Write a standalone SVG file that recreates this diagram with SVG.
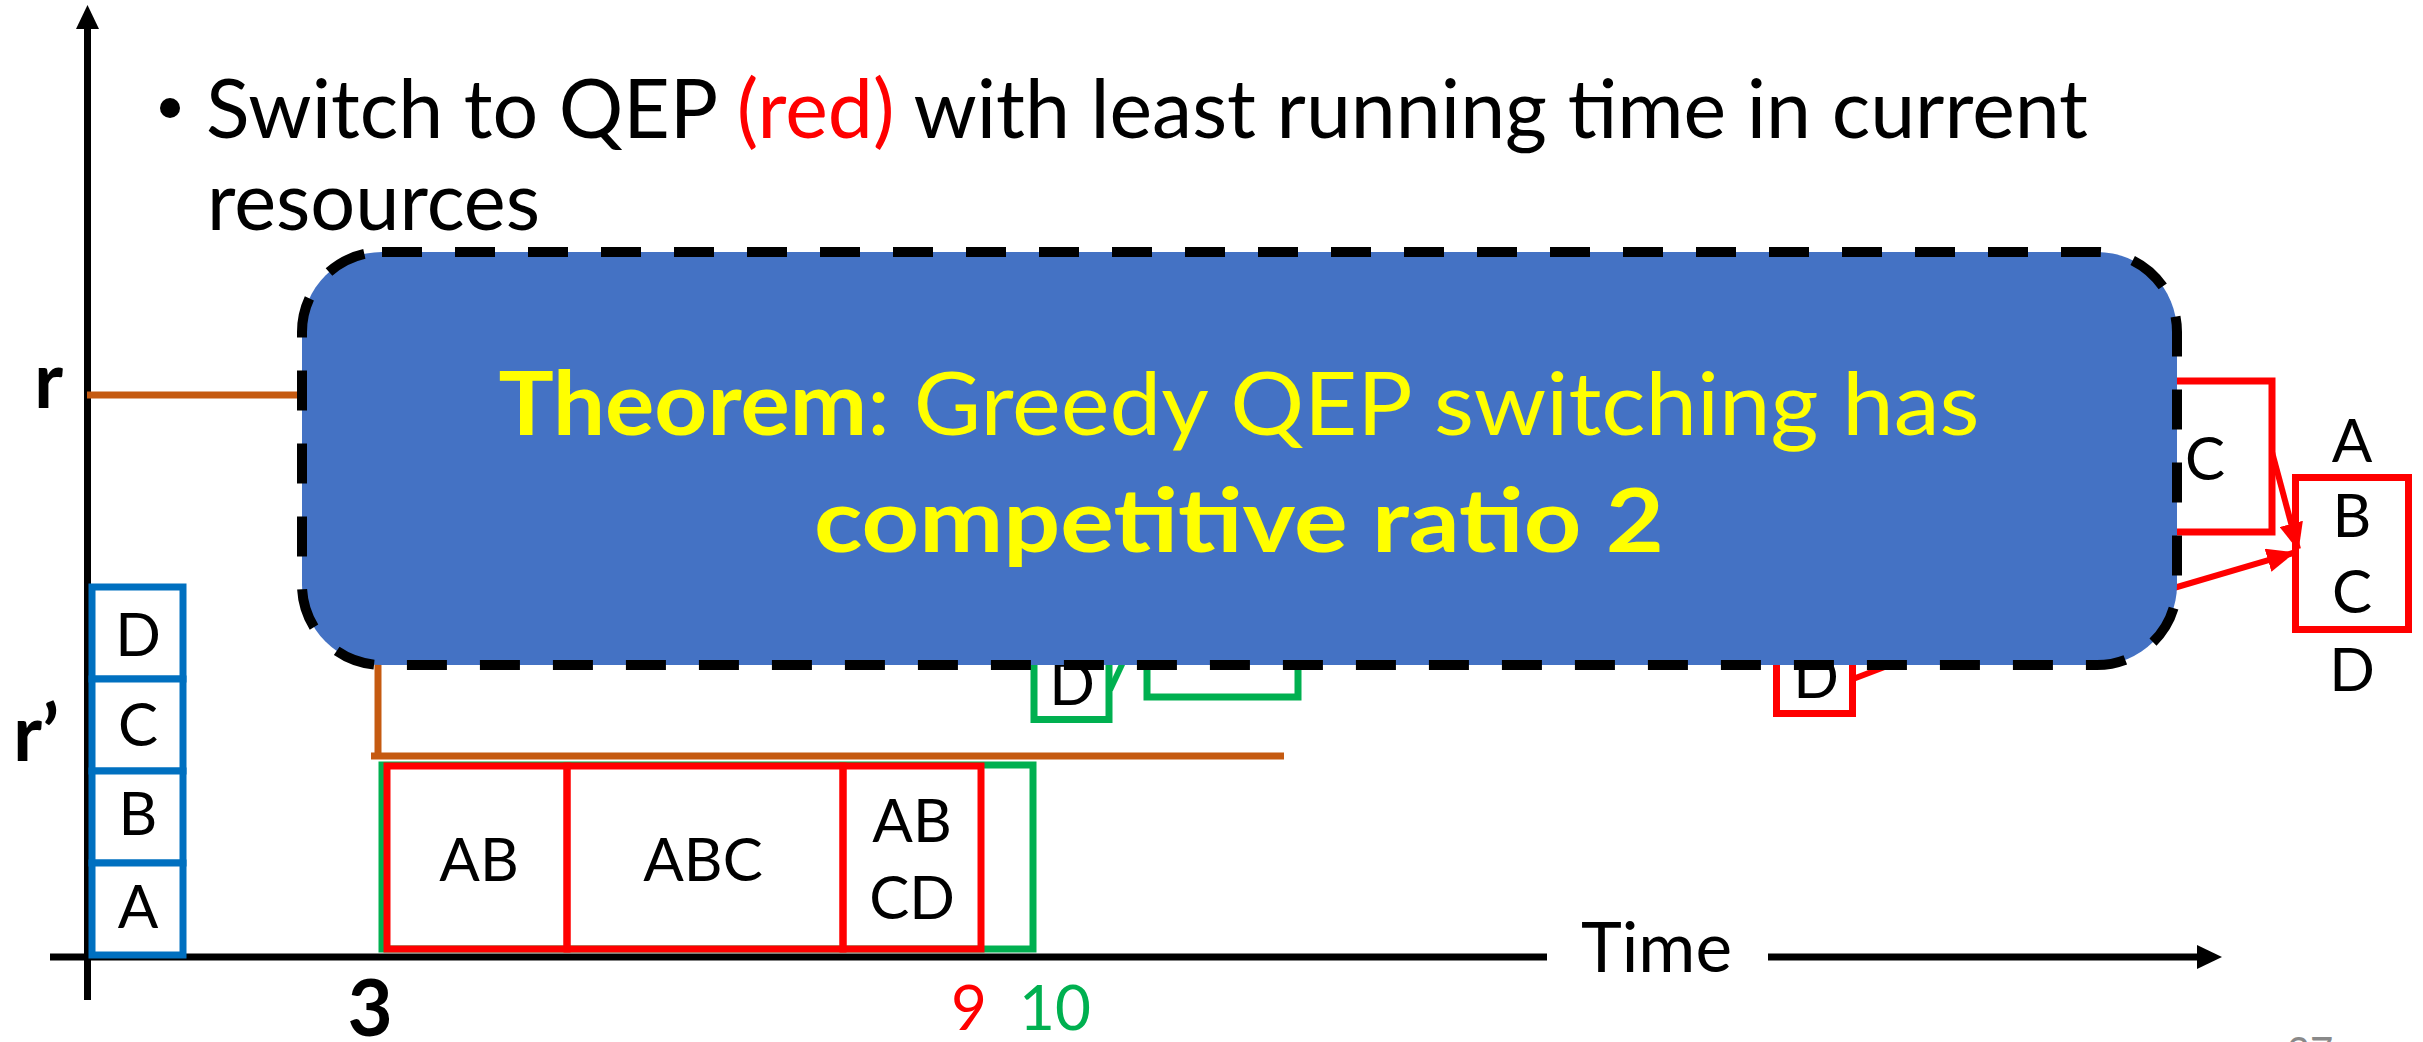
<svg xmlns="http://www.w3.org/2000/svg" width="2423" height="1042" viewBox="0 0 2423 1042">
<style>
text { font-family: Lato, "Liberation Sans", sans-serif; fill: #000; }
.lbl { font-size: 60px; text-anchor: middle; }
.red { fill: none; stroke: #FF0000; stroke-width: 7; }
.grn { fill: none; stroke: #00B050; stroke-width: 7; }
.blu { fill: #fff; stroke: #0070C0; stroke-width: 7; }
.org { stroke: #C55A11; stroke-width: 7; fill: none; }
.axis { stroke: #000; stroke-width: 7; fill: none; }
.conn { stroke: #FF0000; stroke-width: 6; fill: none; }
.bold { font-weight: 700; }
</style>
<defs>
<marker id="ah" markerUnits="userSpaceOnUse" markerWidth="28" markerHeight="24" refX="26" refY="12" orient="auto">
<path d="M0,0 L28,12 L0,24 Z" fill="#FF0000"/>
</marker>
</defs>

<g id="axes">
<line class="axis" x1="87.5" y1="1000" x2="87.5" y2="26"/>
<polygon points="87.5,5 76,29 99,29" fill="#000"/>
<line class="axis" x1="50" y1="957" x2="1547" y2="957"/>
<line class="axis" x1="1768" y1="957" x2="2199" y2="957"/>
<polygon points="2222,957 2197,945 2197,969" fill="#000"/>
<text x="1581" y="972" font-size="70" textLength="151" lengthAdjust="spacingAndGlyphs">Time</text>
<text x="34" y="408" font-size="78" class="bold">r</text>
<text x="13" y="761" font-size="78" class="bold">r’</text>
<text x="370" y="1036" font-size="78" class="bold" text-anchor="middle">3</text>
<text x="969" y="1030" font-size="62" text-anchor="middle" style="fill:#FF0000">9</text>
<text x="1055" y="1030" font-size="62" text-anchor="middle" style="fill:#00B050">10</text>
<text x="2310" y="1066" font-size="40" text-anchor="middle" style="fill:#898989">37</text>
</g>

<g id="resource-levels">
<line class="org" x1="87" y1="395" x2="320" y2="395"/>
<line class="org" x1="378" y1="640" x2="378" y2="756"/>
<line class="org" x1="371" y1="756" x2="1284" y2="756"/>
</g>

<g id="bullet">
<circle cx="170" cy="108" r="10" fill="#000"/>
<text x="206" y="138" font-size="81" textLength="1882" lengthAdjust="spacingAndGlyphs">Switch to QEP <tspan style="fill:#FF0000">(red)</tspan> with least running time in current</text>
<text x="207" y="230" font-size="81" textLength="333" lengthAdjust="spacingAndGlyphs">resources</text>
</g>

<g id="query-blue">
<rect class="blu" x="92" y="587" width="91" height="92"/>
<rect class="blu" x="92" y="679" width="91" height="92"/>
<rect class="blu" x="92" y="771" width="91" height="92"/>
<rect class="blu" x="92" y="863" width="91" height="92"/>
<text class="lbl" x="138" y="656">D</text>
<text class="lbl" x="138" y="746">C</text>
<text class="lbl" x="138" y="835">B</text>
<text class="lbl" x="138" y="928">A</text>
</g>

<g id="green-plan">
<rect class="grn" x="382" y="765" width="651" height="184"/>
<rect class="grn" x="1034" y="600" width="75" height="119.5"/>
<rect class="grn" x="1147" y="600" width="151" height="97"/>
<text class="lbl" x="1072" y="705">D</text>
</g>

<g id="red-plan">
<rect class="red" x="387" y="766" width="180" height="183"/>
<rect class="red" x="567" y="766" width="276" height="183"/>
<rect class="red" x="843" y="766" width="138" height="183"/>
<text class="lbl" x="479" y="881">AB</text>
<text class="lbl" x="703" y="881">ABC</text>
<text class="lbl" x="912" y="842">AB</text>
<text class="lbl" x="912" y="919">CD</text>
<rect class="red" x="2100" y="381" width="172" height="151"/>
<text class="lbl" x="2205" y="480">C</text>
<rect class="red" x="1776.5" y="600" width="76" height="113.5"/>
<text class="lbl" x="1816" y="698">D</text>
<rect class="red" x="2295.5" y="477.5" width="113" height="152"/>
<text class="lbl" x="2352" y="462">A</text>
<text class="lbl" x="2352" y="537">B</text>
<text class="lbl" x="2352" y="613">C</text>
<text class="lbl" x="2352" y="691">D</text>
</g>

<g id="connectors">
<line stroke="#00B050" stroke-width="6" x1="1110" y1="690" x2="1126" y2="656"/>
<line class="conn" x1="1853" y1="679" x2="1895" y2="663"/>
<line class="conn" x1="2272" y1="452" x2="2298" y2="549" marker-end="url(#ah)"/>
<line class="conn" x1="2150" y1="595" x2="2293" y2="553" marker-end="url(#ah)"/>
</g>

<g id="theorem">
<rect x="302" y="252" width="1875" height="413" rx="80" ry="80" fill="#4472C4" stroke="#000" stroke-width="10" stroke-dasharray="40 33"/>
<text x="1239" y="435" font-size="88" text-anchor="middle" textLength="1481" lengthAdjust="spacingAndGlyphs" style="fill:#FFFF00"><tspan font-weight="700">Theorem</tspan>: Greedy QEP switching has</text>
<text x="1239" y="552" font-size="88" text-anchor="middle" font-weight="700" textLength="850" lengthAdjust="spacingAndGlyphs" style="fill:#FFFF00">competitive ratio 2</text>
</g>
</svg>
